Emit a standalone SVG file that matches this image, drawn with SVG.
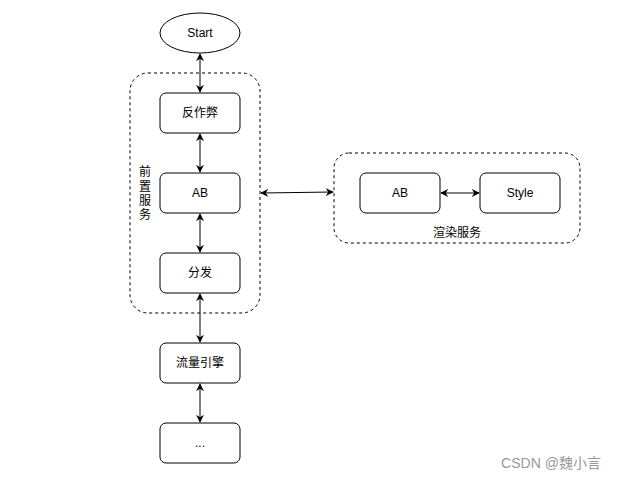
<svg xmlns="http://www.w3.org/2000/svg" width="617" height="479" viewBox="0 0 617 479">
<style>
.n{fill:#fff;stroke:#000;stroke-width:1}
.g{fill:none;stroke:#000;stroke-width:1;stroke-dasharray:3 3}
.t{font-family:"Liberation Sans","Noto Sans CJK SC",sans-serif;font-size:12px;fill:#000;text-anchor:middle;dominant-baseline:central}
.c{fill:none;stroke:#000;stroke-width:1}
</style>
<defs>
<marker id="a" viewBox="0 0 10 10" refX="9" refY="5" markerWidth="8" markerHeight="8" markerUnits="userSpaceOnUse" orient="auto-start-reverse">
<path d="M0,0 L10,5 L0,10 L3,5 Z" fill="#000"/>
</marker>
</defs>
<rect width="617" height="479" fill="#fff"/>
<g id="front-group">
<rect class="g" x="130" y="73" width="130" height="240" rx="18"/>
<text class="t" x="145" y="172">前</text>
<text class="t" x="145" y="187">置</text>
<text class="t" x="145" y="201">服</text>
<text class="t" x="145" y="215">务</text>
</g>
<g id="render-group">
<rect class="g" x="334" y="153" width="246" height="90" rx="15"/>
<text class="t" x="457" y="233">渲染服务</text>
</g>
<g id="connectors">
<line class="c" x1="200" y1="54" x2="200" y2="92" marker-start="url(#a)" marker-end="url(#a)"/>
<line class="c" x1="200" y1="134" x2="200" y2="172" marker-start="url(#a)" marker-end="url(#a)"/>
<line class="c" x1="200" y1="214" x2="200" y2="252" marker-start="url(#a)" marker-end="url(#a)"/>
<line class="c" x1="200" y1="294" x2="200" y2="342" marker-start="url(#a)" marker-end="url(#a)"/>
<line class="c" x1="200" y1="384" x2="200" y2="422" marker-start="url(#a)" marker-end="url(#a)"/>
<line class="c" x1="261" y1="193" x2="333" y2="192" marker-start="url(#a)" marker-end="url(#a)"/>
<line class="c" x1="441" y1="193" x2="479" y2="193" marker-start="url(#a)" marker-end="url(#a)"/>
</g>
<g id="start">
<ellipse class="n" cx="200" cy="33" rx="40" ry="20"/>
<text class="t" x="200" y="33">Start</text>
</g>
<g id="anticheat">
<rect class="n" x="160" y="93" width="80" height="40" rx="6"/>
<text class="t" x="200" y="113">反作弊</text>
</g>
<g id="ab1">
<rect class="n" x="160" y="173" width="80" height="40" rx="6"/>
<text class="t" x="200" y="193">AB</text>
</g>
<g id="dispatch">
<rect class="n" x="160" y="253" width="80" height="40" rx="6"/>
<text class="t" x="200" y="273">分发</text>
</g>
<g id="engine">
<rect class="n" x="160" y="343" width="80" height="40" rx="6"/>
<text class="t" x="200" y="363">流量引擎</text>
</g>
<g id="more">
<rect class="n" x="160" y="423" width="80" height="40" rx="6"/>
<text class="t" x="200" y="443">...</text>
</g>
<g id="ab2">
<rect class="n" x="360" y="173" width="80" height="40" rx="6"/>
<text class="t" x="400" y="193">AB</text>
</g>
<g id="style">
<rect class="n" x="480" y="173" width="80" height="40" rx="6"/>
<text class="t" x="520" y="193">Style</text>
</g>
<text x="551" y="463" font-family="Liberation Sans,'Noto Sans CJK SC',sans-serif" font-size="14" fill="#999" text-anchor="middle" dominant-baseline="central">CSDN @魏小言</text>
</svg>
